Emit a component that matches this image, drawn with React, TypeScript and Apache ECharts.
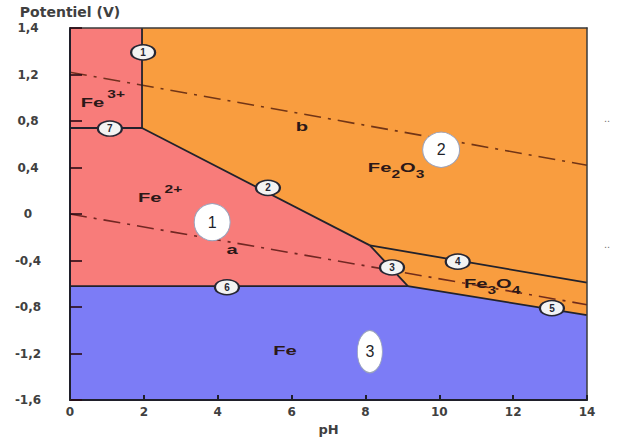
import React, { useEffect, useRef } from "react";
import * as echarts from "echarts";

// ---- axes ----
const xMin = 0;
const xMax = 14;
const xStep = 2;
const yMin = -1.6;
const yMax = 1.6;
const yStep = 0.4;
const yTickLabels = ["-1,6", "-1,2", "-0,8", "-0,4", "0", "0,4", "0,8", "1,2", "1,4"];

// ---- domains (pH, E in V) ----
const redRegion = [[0, 1.6], [1.95, 1.6], [1.95, 0.74], [8.12, -0.27], [9.15, -0.62], [0, -0.62]];
const orangeRegion = [[1.95, 1.6], [14, 1.6], [14, -0.87], [9.15, -0.62], [8.12, -0.27], [1.95, 0.74]];
const blueRegion = [[0, -0.62], [9.15, -0.62], [14, -0.87], [14, -1.6], [0, -1.6]];

// ---- boundary lines 1..7 ----
const line1 = [[1.95, 1.6], [1.95, 0.74]];
const line2 = [[1.95, 0.74], [8.12, -0.27]];
const line3 = [[8.12, -0.27], [9.15, -0.62]];
const line4 = [[8.12, -0.27], [14, -0.59]];
const line5 = [[9.15, -0.62], [14, -0.87]];
const line6 = [[0, -0.62], [9.15, -0.62]];
const line7 = [[0, 0.74], [1.95, 0.74]];

// ---- water lines a and b ----
const lineA = [[0, 0], [14, -0.78]];
const lineB = [[0, 1.22], [14, 0.42]];

// ---- numbered line markers ----
const markerNums = ["1", "2", "3", "4", "5", "6", "7"];
const markerPH = [1.98, 5.36, 8.72, 10.5, 13.05, 4.25, 1.08];
const markerE = [1.39, 0.225, -0.46, -0.41, -0.81, -0.63, 0.735];

// ---- numbered zones ----
const zoneNums = ["1", "2", "3"];
const zonePH = [3.85, 10.05, 8.12];
const zoneE = [-0.07, 0.553, -1.184];

// ---- species labels ----
const labelTexts = ["Fe^{3+}", "Fe^{2+}", "Fe_{2}O_{3}", "Fe_{3}O_{4}", "Fe", "a", "b"];
const labelPH = [0.89, 2.44, 8.83, 11.43, 5.82, 4.39, 6.28];
const labelE = [0.96, 0.14, 0.4, -0.6, -1.175, -0.31, 0.75];

// ---- styles ----
const regionFill = ["#F87C7A", "#F99D3F", "#7C7CF6"];
const zoneSizes = [[36, 37], [37, 35], [25, 42]];
const LABEL_FONT = "Liberation Sans";

type Part = { text: string; kind: "base" | "sub" | "sup" };
function parseLabel(s: string): Part[] {
  const out: Part[] = [];
  const re = /(\^|_)\{([^}]*)\}|([^_^]+)/g;
  let m: RegExpExecArray | null;
  while ((m = re.exec(s))) {
    if (m[3]) out.push({ text: m[3], kind: "base" });
    else out.push({ text: m[2], kind: m[1] === "^" ? "sup" : "sub" });
  }
  return out;
}

let measureCtx: CanvasRenderingContext2D | null = null;
function measure(text: string, font: string): number {
  if (!measureCtx) measureCtx = document.createElement("canvas").getContext("2d");
  if (!measureCtx) return text.length * 7;
  measureCtx.font = font;
  return measureCtx.measureText(text).width;
}

export default function App() {
  const ref = useRef<HTMLDivElement>(null);

  useEffect(() => {
    if (!ref.current) return;
    const chart = echarts.init(ref.current, undefined, { renderer: "svg" });

    const polys = [redRegion, orangeRegion, blueRegion];
    const boundaries = [line1, line2, line3, line4, line5, line6, line7];

    const axisLabelStyle = {
      fontFamily: "DejaVu Sans",
      fontWeight: "bold" as const,
      fontSize: 12,
      color: "#404040",
    };

    const option: any = {
      animation: false,
      backgroundColor: "#ffffff",
      grid: { left: 70, right: 33, top: 28, bottom: 42, containLabel: false, outerBoundsMode: "none" },
      xAxis: [
        {
          type: "value",
          min: xMin,
          max: xMax,
          interval: xStep,
          position: "bottom",
          name: "pH",
          nameLocation: "middle",
          nameGap: 22,
          nameTextStyle: { fontFamily: "DejaVu Sans", fontWeight: "bold", fontSize: 13, color: "#404040" },
          axisLine: { show: true, onZero: false, lineStyle: { color: "#1f1f2a", width: 2 } },
          axisTick: { show: true, inside: true, length: 5, lineStyle: { color: "#1f1f2a", width: 2 } },
          axisLabel: { ...axisLabelStyle, margin: 6 },
          splitLine: { show: false },
          z: 10,
        },
        {
          type: "value",
          min: xMin,
          max: xMax,
          position: "top",
          axisLine: { show: true, onZero: false, lineStyle: { color: "#3a3a3a", width: 1.5 } },
          axisTick: { show: false },
          axisLabel: { show: false },
          splitLine: { show: false },
          z: 10,
        },
      ],
      yAxis: [
        {
          type: "value",
          min: yMin,
          max: yMax,
          interval: yStep,
          position: "left",
          name: "Potentiel (V)",
          nameLocation: "end",
          nameGap: 9,
          nameTextStyle: { fontFamily: "DejaVu Sans", fontWeight: "bold", fontSize: 14, color: "#404040", align: "center" },
          axisLine: { show: true, onZero: false, lineStyle: { color: "#1f1f2a", width: 2 } },
          axisTick: { show: true, inside: true, length: 12, lineStyle: { color: "rgba(40,10,20,0.8)", width: 2 } },
          axisLabel: {
            ...axisLabelStyle,
            align: "center",
            margin: 42,
            formatter: (v: number) => {
              const i = Math.round((v - yMin) / yStep);
              return yTickLabels[i] ?? "";
            },
          },
          splitLine: { show: false },
          z: 10,
        },
        {
          type: "value",
          min: yMin,
          max: yMax,
          position: "right",
          axisLine: { show: true, onZero: false, lineStyle: { color: "#3a3a3a", width: 1.5 } },
          axisTick: { show: false },
          axisLabel: { show: false },
          splitLine: { show: false },
          z: 10,
        },
      ],
      graphic: [
        { type: "text", x: 604, y: 112, style: { text: "..", fill: "#777", fontSize: 11 } },
        { type: "text", x: 604, y: 238, style: { text: "..", fill: "#777", fontSize: 11 } },
      ],
      series: [
        {
          type: "custom",
          name: "regions",
          z: 1,
          silent: true,
          data: polys.map((p) => p[0]),
          renderItem: (params: any, api: any) => {
            const poly = polys[params.dataIndex];
            return {
              type: "polygon",
              shape: { points: poly.map((pt) => api.coord(pt)) },
              style: { fill: regionFill[params.dataIndex], stroke: null },
            };
          },
        },
        {
          type: "line",
          name: "a",
          z: 2,
          data: lineA,
          symbol: "none",
          silent: true,
          lineStyle: { color: "rgba(90,25,20,0.85)", width: 1.6, type: [17, 7, 3, 7] },
        },
        {
          type: "line",
          name: "b",
          z: 2,
          data: lineB,
          symbol: "none",
          silent: true,
          lineStyle: { color: "rgba(90,35,15,0.85)", width: 1.6, type: [17, 7, 3, 7] },
        },
        ...boundaries.map((seg, i) => ({
          type: "line",
          name: "boundary" + (i + 1),
          z: 3,
          data: seg,
          symbol: "none",
          silent: true,
          lineStyle: { color: "#22222c", width: 1.8 },
        })),
        {
          type: "custom",
          name: "labels",
          z: 4,
          silent: true,
          data: labelPH.map((p, i) => [p, labelE[i]]),
          renderItem: (params: any, api: any) => {
            const i = params.dataIndex;
            const pt = api.coord([api.value(0), api.value(1)]);
            const parts = parseLabel(labelTexts[i]);
            const children: any[] = [];
            let x = 0;
            parts.forEach((part) => {
              const size = part.kind === "base" ? 13 : 10;
              const font = `bold ${size}px "${LABEL_FONT}"`;
              const w = measure(part.text, font);
              const dy = part.kind === "sub" ? 7 : part.kind === "sup" ? -8 : 0;
              if (part.kind === "sup") x += 2;
              children.push({
                type: "text",
                x,
                y: dy,
                style: {
                  text: part.text,
                  fill: "#2b1818",
                  fontSize: size,
                  fontWeight: "bold",
                  fontFamily: LABEL_FONT,
                  align: "left",
                  verticalAlign: "middle",
                  textAlign: "left",
                  textVerticalAlign: "middle",
                },
              });
              x += w;
            });
            children.forEach((c) => (c.x -= x / 2));
            return { type: "group", x: pt[0], y: pt[1], scaleX: 1.55, children };
          },
        },
        {
          type: "scatter",
          name: "markers",
          z: 5,
          silent: true,
          data: markerPH.map((p, i) => [p, markerE[i]]),
          symbol: "circle",
          symbolSize: [24, 15],
          itemStyle: { color: "#f3f3f3", borderColor: "#262633", borderWidth: 1.8, opacity: 1 },
          label: {
            show: true,
            position: "inside",
            formatter: (p: any) => markerNums[p.dataIndex],
            fontFamily: LABEL_FONT,
            fontWeight: "bold",
            fontSize: 10,
            color: "#262633",
          },
        },
        {
          type: "scatter",
          name: "zones",
          z: 6,
          silent: true,
          data: zonePH.map((p, i) => [p, zoneE[i]]),
          symbol: "circle",
          symbolSize: (_v: any, params: any) => zoneSizes[params.dataIndex],
          itemStyle: { color: "#ffffff", borderColor: "#9aa3bd", borderWidth: 1, opacity: 1 },
          label: {
            show: true,
            position: "inside",
            formatter: (p: any) => zoneNums[p.dataIndex],
            fontFamily: LABEL_FONT,
            fontSize: 16,
            color: "#1f1f2a",
          },
        },
      ],
    };

    chart.setOption(option);
    return () => chart.dispose();
  }, []);

  return (
    <div
      ref={ref}
      style={{ position: "fixed", left: 0, top: 0, width: 620, height: 442, background: "#fff" }}
    />
  );
}
